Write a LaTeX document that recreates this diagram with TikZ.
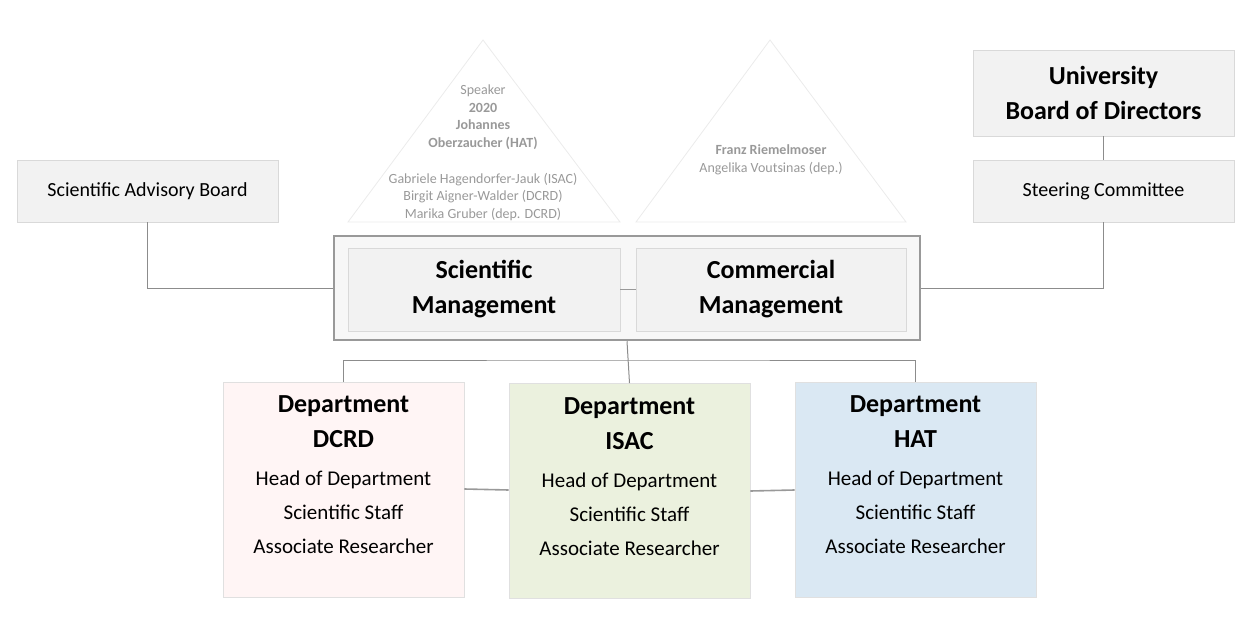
\documentclass[tikz,border=0pt]{standalone}
\usepackage{fontspec}
\setmainfont{Carlito}
\begin{document}
\begin{tikzpicture}[x=1pt,y=-1pt,
  graybox/.style={draw=black!15,fill=black!5,line width=0.8pt,inner sep=0pt},
  conn/.style={draw=black!40,line width=1.6pt},
  thin/.style={draw=black!45,line width=1pt},
  tri/.style={draw=black!8,line width=0.8pt},
  tritext/.style={text=black!40,font=\fontsize{14}{17.5}\selectfont,align=center},
  big/.style={font=\bfseries\fontsize{26}{35}\selectfont,align=center},
  med/.style={font=\fontsize{21}{34}\selectfont,align=center}]
\useasboundingbox (0,0) rectangle (1250,626);
% triangles
\draw[tri] (348,222) -- (483,40) -- (620,222) -- cycle;
\draw[tri] (636,222) -- (770,40) -- (906,222) -- cycle;
\node[tritext] (t1a) at (483,117) {Speaker\\\textbf{2020}\\\textbf{Johannes}\\\textbf{Oberzaucher (HAT)}};
\node[tritext] (t1b) at (483,197) {Gabriele Hagendorfer-Jauk (ISAC)\\Birgit Aigner-Walder (DCRD)\\Marika Gruber (dep. DCRD)};
\node[tritext] (t2) at (771,160) {\textbf{Franz Riemelmoser}\\Angelika Voutsinas (dep.)};
% top boxes
\node[graybox,minimum width=261pt,minimum height=62pt,font=\fontsize{20}{24}\selectfont] (sab) at (147.5,191) {Scientific Advisory Board};
\node[graybox,minimum width=261pt,minimum height=86pt,big] (uni) at (1103.5,93) {University\\Board of Directors};
\node[graybox,minimum width=261pt,minimum height=62pt,font=\fontsize{20}{24}\selectfont] (sc) at (1103.5,191) {Steering Committee};
\draw[thin] (uni.south) -- (sc.north);
% management
\node[draw=black!40,line width=2.5pt,fill=black!3,minimum width=586pt,minimum height=104pt] (mgmt) at (627,288) {};
\node[graybox,minimum width=272pt,minimum height=83pt,big] (sm) at (484,289.5) {Scientific\\Management};
\node[graybox,minimum width=270pt,minimum height=83pt,big] (cm) at (771,289.5) {Commercial\\Management};
\draw[conn] (sm.east) -- (cm.west);
\draw[thin] (sab.south) |- (mgmt.west);
\draw[thin] (sc.south) |- (mgmt.east);
% departments
\tikzset{dept/.style={draw=black!12,line width=0.8pt,minimum width=241pt,minimum height=215pt}}
\node[dept,fill={rgb,255:red,255;green,245;blue,245}] (d1) at (343.5,489.5) {};
\node[dept,fill={rgb,255:red,235;green,241;blue,222}] (d2) at (629.5,491) {};
\node[dept,fill={rgb,255:red,218;green,232;blue,243}] (d3) at (915.5,489.5) {};
\coordinate (split) at (627,360);
\draw[thin] (mgmt.south) -- (d2.north);
\draw[thin] (d1.north) |- (split) -| (d3.north);
\draw[conn] (d1.east |- 0,489) -- (d2.west |- 0,490);
\draw[conn] (d2.east |- 0,491) -- (d3.west |- 0,490);
\foreach \n/\x/\dy/\name in {d1t/343.5/0/DCRD,d2t/629.5/2/ISAC,d3t/915.5/0/HAT}{
  \node[big] (\n a) at (\x,422+\dy) {Department\\\name};
  \node[med] (\n b) at (\x,512+\dy) {Head of Department\\Scientific Staff\\Associate Researcher};
}
\end{tikzpicture}
\end{document}
